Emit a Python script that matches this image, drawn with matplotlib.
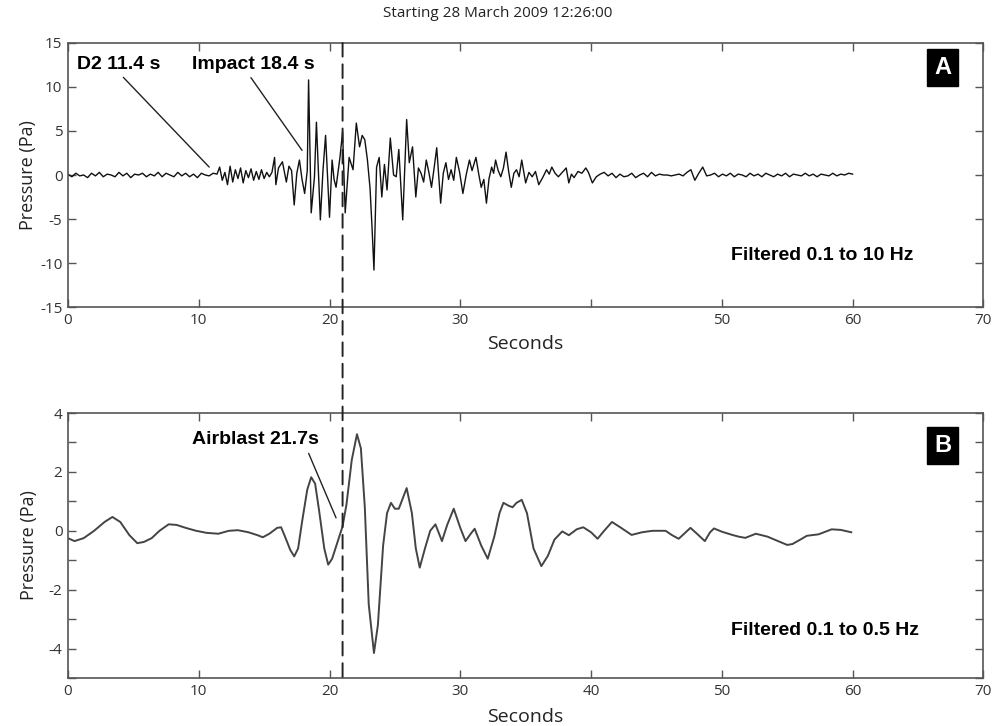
import numpy as np
import matplotlib
matplotlib.use("Agg")
import matplotlib.pyplot as plt
from matplotlib.patches import ConnectionPatch

plt.rcParams["axes.unicode_minus"] = False

# ---- painel A: filtro 0.1 a 10 Hz ----
quiet_start = [0.1, -0.2, 0.2, -0.1, 0.0, -0.3, 0.2, -0.1, 0.3, -0.2,
               0.1, 0.0, -0.2, 0.3, -0.1, 0.2, -0.3, 0.1, 0.0, 0.2,
               -0.2, 0.1, -0.1, 0.3, -0.2, 0.2, 0.0, -0.2, 0.3, -0.1,
               0.2, -0.2, 0.1, -0.3, 0.2, 0.0, -0.1, 0.2, 0.1]
onset = [0.9, -0.6, 0.3, -1.1, 1.0, -0.8, 0.6, -0.4, 0.8, -0.9,
         0.5, -0.3, 0.7, -0.6, 0.4, -0.5, 0.6, -0.4, 0.3, -0.2]
active_t = [15.6, 15.8, 15.9, 16.1, 16.4, 16.7, 16.9, 17.1, 17.3, 17.5,
            17.7, 17.9, 18.1, 18.3, 18.4, 18.6, 18.85, 19.0, 19.3, 19.5,
            19.7, 20.0, 20.2, 20.35, 20.5, 20.8, 21.0, 21.2, 21.5, 21.8,
            22.05, 22.3, 22.5, 22.7, 22.9, 23.1, 23.25, 23.4, 23.6, 23.8,
            24.0, 24.2, 24.4, 24.65, 24.9, 25.1, 25.3, 25.6, 25.9, 26.1,
            26.35, 26.6, 26.8, 27.0, 27.2, 27.4, 27.6, 27.8, 28.0, 28.2,
            28.5, 28.7, 28.9, 29.1, 29.3, 29.5, 29.7, 29.95, 30.2, 30.45,
            30.7, 30.9, 31.2, 31.4, 31.6, 31.8, 32.0, 32.2, 32.4, 32.55,
            32.7, 32.9, 33.1, 33.3, 33.5, 33.7, 33.9, 34.1, 34.3, 34.5,
            34.7, 34.85, 35.0, 35.25, 35.5, 35.75, 36.0, 36.3, 36.6, 36.8,
            37.0, 37.25, 37.5, 37.8, 38.1, 38.3, 38.5, 38.7, 39.0, 39.3,
            39.6, 39.8, 40.1, 40.4]
active_p = [0.3, 2.0, -1.1, 0.8, 1.5, -0.8, 1.0, 0.5, -3.4, 0.2,
            1.7, -0.5, -2.1, 0.5, 10.8, -4.3, -0.2, 6.0, -5.1, 0.5,
            4.5, -4.8, 1.7, -0.5, -1.4, 2.0, 4.9, -4.3, 2.0, 0.6,
            5.9, 3.2, 4.5, 4.0, 1.7, -1.5, -5.9, -10.8, 0.9, 2.0,
            -2.5, 1.2, -1.7, 4.2, 0.0, -0.2, 2.9, -5.1, 6.3, 1.4,
            3.2, -2.5, 0.8, 0.2, -0.8, 1.7, 0.3, -1.4, 0.8, 3.1,
            -3.2, 0.2, 1.4, -0.5, 0.6, -0.6, 2.0, 0.3, -2.1, 0.0,
            1.7, 0.5, 2.0, 0.2, -1.4, -0.5, -3.2, -0.4, 0.9, 0.2,
            1.7, 0.5, -0.2, 0.8, 2.6, 0.4, -1.4, 0.2, 0.6, -0.2,
            1.7, 0.4, -0.9, 0.3, -0.2, 0.4, -1.1, -0.3, 0.6, 0.1,
            0.9, 0.2, -0.2, 0.3, 0.8, -0.9, 0.1, -0.3, 0.4, 0.2,
            0.8, 0.3, -0.9, -0.2]
quiet_end = [0.1, 0.3, -0.1, 0.2, -0.3, 0.1, -0.2, -0.1, 0.2, -0.3,
             0.0, 0.2, -0.2, 0.3, -0.1, 0.1, 0.0, 0.0, -0.1, 0.0,
             0.1, -0.1, 0.3, 0.6, -0.6, 0.2, 0.9, -0.1, 0.0, 0.2,
             -0.2, 0.1, -0.1, 0.2, -0.2, 0.1, 0.0, -0.2, 0.2, -0.1,
             0.1, -0.2, 0.2, 0.0, -0.2, 0.1, -0.1, 0.2, -0.2, 0.1,
             0.0, -0.1, 0.2, -0.1, 0.1, -0.2, 0.1, 0.0, -0.1, 0.2,
             -0.1, 0.1, 0.0, 0.2, 0.1]

t_a = np.concatenate([np.linspace(0, 11.4, len(quiet_start)),
                      np.linspace(11.6, 15.4, len(onset)),
                      active_t,
                      np.linspace(40.7, 60.0, len(quiet_end))])
p_a = np.concatenate([quiet_start, onset, active_p, quiet_end])

# ---- painel B: filtro 0.1 a 0.5 Hz ----
t_b = [0.0, 0.5, 1.2, 2.0, 2.8, 3.4, 4.0, 4.7, 5.3, 5.8, 6.4, 7.0, 7.7, 8.3,
       9.0, 9.8, 10.6, 11.5, 12.3, 13.0, 13.8, 14.5, 14.9, 15.4, 16.0, 16.3,
       16.6, 17.0, 17.3, 17.6, 17.9, 18.3, 18.6, 18.9, 19.2, 19.6, 19.9, 20.2,
       20.6, 21.0, 21.3, 21.7, 22.1, 22.4, 22.7, 23.0, 23.4, 23.7, 24.1, 24.4,
       24.7, 25.0, 25.3, 25.9, 26.3, 26.6, 26.9, 27.3, 27.7, 28.1, 28.6, 29.0,
       29.5, 30.0, 30.4, 30.8, 31.1, 31.6, 32.1, 32.6, 33.0, 33.3, 33.7, 34.0,
       34.3, 34.7, 35.1, 35.6, 36.2, 36.7, 37.2, 37.8, 38.3, 38.9, 39.4, 40.0,
       40.5, 41.0, 41.6, 42.3, 43.1, 43.9, 44.7, 45.7, 46.2, 46.7, 47.0, 47.6,
       48.1, 48.7, 49.1, 49.4, 50.0, 50.8, 51.3, 51.8, 52.6, 53.5, 54.3, 55.0,
       55.4, 56.0, 56.5, 57.4, 58.4, 59.1, 59.9]
p_b = [-0.25, -0.35, -0.25, 0.0, 0.3, 0.47, 0.3, -0.15, -0.42, -0.38, -0.25,
       0.0, 0.22, 0.2, 0.1, 0.0, -0.07, -0.1, 0.0, 0.02, -0.05, -0.15, -0.22,
       -0.1, 0.1, 0.12, -0.2, -0.65, -0.87, -0.6, 0.3, 1.4, 1.82, 1.6, 0.7,
       -0.6, -1.15, -0.95, -0.4, 0.15, 0.9, 2.4, 3.28, 2.8, 0.8, -2.5, -4.15,
       -3.2, -0.5, 0.6, 0.95, 0.75, 0.75, 1.45, 0.6, -0.6, -1.25, -0.6, 0.0,
       0.22, -0.35, 0.2, 0.75, 0.1, -0.35, -0.1, 0.07, -0.5, -0.95, -0.2, 0.6,
       0.95, 0.85, 0.8, 0.95, 1.05, 0.6, -0.6, -1.2, -0.85, -0.3, -0.02, -0.15,
       0.05, 0.12, -0.05, -0.27, 0.0, 0.3, 0.1, -0.14, -0.05, 0.0, 0.0, -0.15,
       -0.27, -0.15, 0.1, -0.1, -0.35, -0.05, 0.08, -0.03, -0.14, -0.2, -0.24,
       -0.1, -0.2, -0.35, -0.48, -0.45, -0.3, -0.17, -0.12, 0.05, 0.03, -0.05]

airblast_t = 21.0
xticks = [0, 10, 20, 30, 40, 50, 60, 70]
xlabels_a = ["0", "10", "20", "30", "", "50", "60", "70"]
xlabels_b = ["0", "10", "20", "30", "40", "50", "60", "70"]

tick_font = "Open Sans"
bold_font = "Liberation Sans"
frame_c = "#555555"

fig = plt.figure(figsize=(9.95, 7.26), dpi=100)
ax1 = fig.add_axes([0.0683, 0.5771, 0.920, 0.3637])
ax2 = fig.add_axes([0.0683, 0.0661, 0.920, 0.3650])


def style(ax):
    for s in ax.spines.values():
        s.set_color(frame_c)
        s.set_linewidth(1.2)
    ax.tick_params(which="both", direction="in", top=True, right=True,
                   length=6, width=1.0, color=frame_c, labelsize=11,
                   labelcolor="#333333", pad=4)
    for lab in ax.get_xticklabels() + ax.get_yticklabels():
        lab.set_family(tick_font)


# painel A
ax1.plot(t_a, p_a, color="#111111", lw=1.0)
ax1.set_xlim(0, 70)
ax1.set_ylim(-15, 15)
ax1.set_xticks(xticks)
ax1.set_xticklabels(xlabels_a)
ax1.set_yticks([-15, -10, -5, 0, 5, 10, 15])
style(ax1)
ax1.set_xlabel("Seconds", fontsize=14, family=tick_font, color="#222222", labelpad=5)
ax1.set_ylabel("Pressure (Pa)", fontsize=13, family=tick_font, color="#222222", labelpad=2)

ax1.annotate("D2 11.4 s", xy=(10.8, 0.9), xytext=(0.7, 12.6),
             fontsize=14, fontweight="bold", family=bold_font, va="center",
             arrowprops=dict(arrowstyle="-", color="#222222", lw=1.0,
                             shrinkA=2, shrinkB=0, relpos=(0.5, 0.0)))
ax1.annotate("Impact 18.4 s", xy=(17.9, 2.8), xytext=(9.5, 12.6),
             fontsize=14, fontweight="bold", family=bold_font, va="center",
             arrowprops=dict(arrowstyle="-", color="#222222", lw=1.0,
                             shrinkA=2, shrinkB=0, relpos=(0.45, 0.0)))
ax1.text(57.7, -9.1, "Filtered 0.1 to 10 Hz", fontsize=14, fontweight="bold",
         family=bold_font, ha="center", va="center")
ax1.text(66.9, 12.2, "A", fontsize=17, fontweight="bold", family=bold_font,
         color="white", ha="center", va="center",
         bbox=dict(boxstyle="square,pad=0.3", fc="black", ec="black"))
fig.text(0.5, 0.982, "Starting 28 March 2009 12:26:00", fontsize=11,
         family=tick_font, color="#222222", ha="center", va="center")

# painel B
ax2.plot(t_b, p_b, color="#444444", lw=1.4)
ax2.set_xlim(0, 70)
ax2.set_ylim(-5, 4)
ax2.set_xticks(xticks)
ax2.set_xticklabels(xlabels_b)
ax2.set_yticks(range(-5, 5))
ax2.set_yticklabels(["" if v % 2 else str(v) for v in range(-5, 5)])
style(ax2)
ax2.set_xlabel("Seconds", fontsize=14, family=tick_font, color="#222222", labelpad=7)
ax2.set_ylabel("Pressure (Pa)", fontsize=13, family=tick_font, color="#222222", labelpad=8)

ax2.annotate("Airblast 21.7s", xy=(20.5, 0.44), xytext=(9.5, 3.1),
             fontsize=14, fontweight="bold", family=bold_font, va="center",
             arrowprops=dict(arrowstyle="-", color="#222222", lw=1.0,
                             shrinkA=2, shrinkB=0, relpos=(0.9, 0.0)))
ax2.text(57.9, -3.4, "Filtered 0.1 to 0.5 Hz", fontsize=14, fontweight="bold",
         family=bold_font, ha="center", va="center")
ax2.text(66.9, 2.9, "B", fontsize=17, fontweight="bold", family=bold_font,
         color="white", ha="center", va="center",
         bbox=dict(boxstyle="square,pad=0.3", fc="black", ec="black"))

# linha tracejada do airblast atravessando os dois painéis
con = ConnectionPatch(xyA=(airblast_t, 15), coordsA=ax1.transData,
                      xyB=(airblast_t, -5), coordsB=ax2.transData,
                      color="#222222", lw=1.4, linestyle=(0, (7, 4)))
fig.add_artist(con)

fig.savefig("out.png", dpi=100)
